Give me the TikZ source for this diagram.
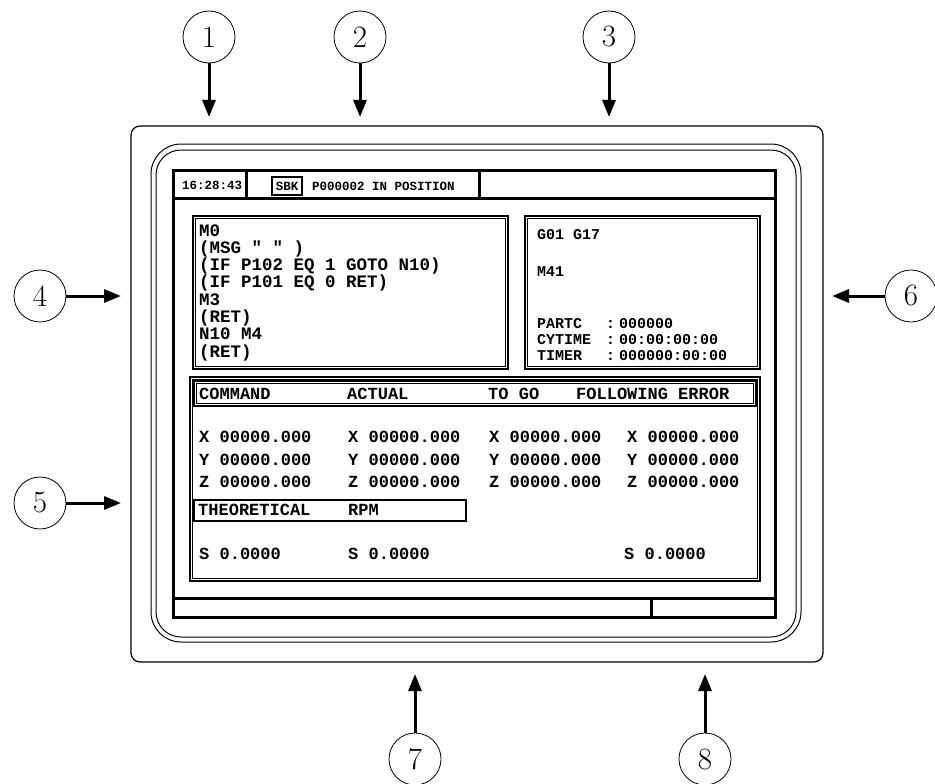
\documentclass[tikz,border=0pt]{standalone}
\usepackage{fontspec}
\newfontfamily\scr{Liberation Mono}
\usetikzlibrary{arrows.meta,calc}
\tikzset{
  num/.style={circle,draw,line width=0.8pt,minimum size=52pt,inner sep=0pt,
    font=\fontsize{31}{31}\selectfont},
  callout/.style={line width=3pt,-{Triangle[length=17pt,width=13pt]}},
  txt/.style={anchor=base west,inner sep=0pt,font=\scr\bfseries\fontsize{17}{17}\selectfont},
  ptxt/.style={anchor=base west,inner sep=0pt,font=\scr\bfseries\fontsize{17.5}{17.5}\selectfont},
  rtxt/.style={anchor=base west,inner sep=0pt,font=\scr\bfseries\fontsize{15}{15}\selectfont},
  stxt/.style={anchor=base west,inner sep=0pt,font=\scr\bfseries\fontsize{12.5}{12.5}\selectfont},
  boxout/.style={draw,line width=1.7pt},
  boxin/.style={draw,line width=0.6pt},
  thick screen/.style={draw,line width=3pt},
}
\newcommand{\framedbox}[4]{%
  \draw[boxout] (#1,#2) rectangle (#3,#4);
  \draw[boxin] ($(#1,#2)+(2.6,2.6)$) rectangle ($(#3,#4)+(-2.6,-2.6)$);}
\begin{document}
\begin{tikzpicture}[x=1pt,y=-1pt]
\useasboundingbox (0,0) rectangle (935,784);
% housing
\draw[line width=1.2pt,rounded corners=9pt] (131,126) rectangle (823,662);
\draw[line width=1pt,rounded corners=30pt] (151,144) rectangle (801,642);
\draw[line width=1pt,rounded corners=25pt] (156,150) rectangle (796,637);
% screen
\draw[thick screen] (173,170) rectangle (775,617);
\draw[line width=3pt] (173,198) -- (775,198);
\draw[line width=3pt] (246,170) -- (246,198);
\draw[line width=3pt] (479,170) -- (479,198);
\draw[line width=3pt] (173,598) -- (775,598);
\draw[line width=3pt] (651,598) -- (651,617);
% top bar texts
\node[stxt] (clock) at (182,189) {16:28:43};
\draw[line width=1.6pt] (272,177) rectangle (302,195);
\node[anchor=base,inner sep=0pt,font=\scr\bfseries\fontsize{12.5}{12.5}\selectfont] (sbk) at (287,190) {SBK};
\node[stxt] (status) at (312,190) {P000002 IN POSITION};
% program box
\framedbox{193}{216}{508}{369}
\node[ptxt] (p1) at (199,236) {M0};
\node[ptxt] (p2) at (199,253.3) {(MSG " " )};
\node[ptxt] (p3) at (199,270.6) {(IF P102 EQ 1 GOTO N10)};
\node[ptxt] (p4) at (199,287.9) {(IF P101 EQ 0 RET)};
\node[ptxt] (p5) at (199,305.2) {M3};
\node[ptxt] (p6) at (199,322.5) {(RET)};
\node[ptxt] (p7) at (199,339.8) {N10 M4};
\node[ptxt] (p8) at (199,357.1) {(RET)};
% info box
\framedbox{525}{216}{760}{369}
\node[rtxt] (g) at (537,239) {G01 G17};
\node[rtxt] (m) at (537,276) {M41};
\node[rtxt] (l1) at (537,328) {PARTC};
\node[rtxt] (l2) at (537,344) {CYTIME};
\node[rtxt] (l3) at (537,360) {TIMER};
\node[rtxt] (c1x) at (606,328) {:};
\node[rtxt] (c2x) at (606,344) {:};
\node[rtxt] (c3x) at (606,360) {:};
\node[rtxt] (v1) at (619,328) {000000};
\node[rtxt] (v2) at (619,344) {00:00:00:00};
\node[rtxt] (v3) at (619,360) {000000:00:00};
% data box
\framedbox{190}{377}{760}{581}
\framedbox{194}{381}{756}{406}
\node[txt] (h1) at (199,399) {COMMAND};
\node[txt] (h2) at (347,399) {ACTUAL};
\node[txt] (h3) at (488,399) {TO GO};
\node[txt] (h4) at (576,399) {FOLLOWING ERROR};
\foreach \c/\xx in {a/199,b/348,c/489,d/627}{
  \node[txt] (x\c) at (\xx,442) {X 00000.000};
  \node[txt] (y\c) at (\xx,465) {Y 00000.000};
  \node[txt] (z\c) at (\xx,487) {Z 00000.000};
}
\draw[boxout,line width=1.4pt] (194,500) rectangle (466,521);
\node[txt] (th) at (198,515) {THEORETICAL};
\node[txt] (rpm) at (348,515) {RPM};
\node[txt] (s1) at (199,559) {S 0.0000};
\node[txt] (s2) at (348,559) {S 0.0000};
\node[txt] (s3) at (624,559) {S 0.0000};
% callouts
\node[num] (n1) at (209,37) {1};
\node[num] (n2) at (360,37) {2};
\node[num] (n3) at (609,37) {3};
\node[num] (n4) at (40,296) {4};
\node[num] (n5) at (40,503) {5};
\node[num] (n6) at (911,296) {6};
\node[num] (n7) at (415,759) {7};
\node[num] (n8) at (705,759) {8};
\coordinate (t1) at (209,117);
\coordinate (t2) at (360,117);
\coordinate (t3) at (609,117);
\coordinate (t4) at (121,296);
\coordinate (t5) at (121,503);
\coordinate (t6) at (832,296);
\coordinate (t7) at (415,674);
\coordinate (t8) at (705,674);
\draw[callout] (n1) -- (t1);
\draw[callout] (n2) -- (t2);
\draw[callout] (n3) -- (t3);
\draw[callout] (n4) -- (t4);
\draw[callout] (n5) -- (t5);
\draw[callout] (n6) -- (t6);
\draw[callout] (n7) -- (t7);
\draw[callout] (n8) -- (t8);
\end{tikzpicture}
\end{document}
